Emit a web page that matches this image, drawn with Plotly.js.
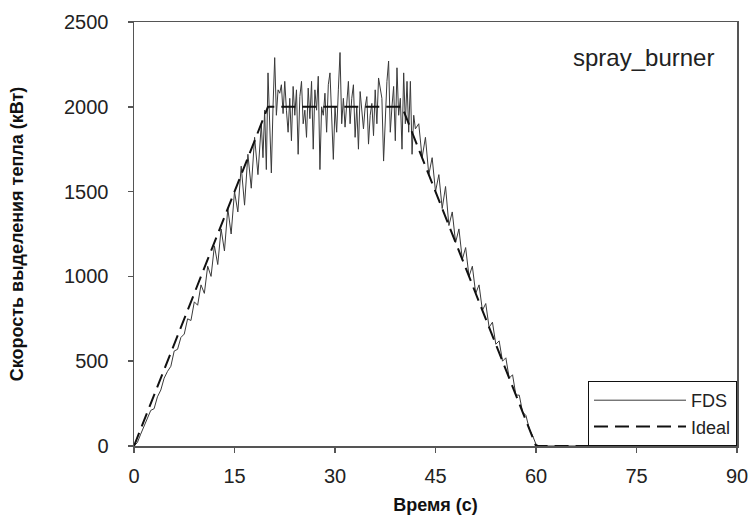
<!DOCTYPE html>
<html>
<head>
<meta charset="utf-8">
<script src="https://cdn.plot.ly/plotly-3.0.1.min.js"></script>
<style>html,body{margin:0;padding:0;background:#fff;}#chart{width:754px;height:529px;}</style>
</head>
<body>
<div id="chart"></div>
<script>
// Ideal heat release curve
var idealTime = [0, 20, 40, 60, 90];
var idealHRR = [0, 2000, 2000, 0, 0];

// FDS simulated heat release
var fdsTime = [
  0, 0.5, 1, 1.5, 2, 2.5, 3, 3.5, 4, 4.5, 5, 5.5, 6, 6.5, 7, 7.5, 8, 8.5, 9, 9.5,
  10, 10.5, 11, 11.5, 12, 12.5, 13, 13.5, 14, 14.5, 15, 15.5, 16, 16.5, 17, 17.5, 18, 18.5,
  19, 19.25, 19.5, 19.75, 20, 20.25, 20.5, 20.75, 21, 21.25, 21.5, 21.75, 22, 22.25, 22.5, 22.75,
  23, 23.25, 23.5, 23.75, 24, 24.25, 24.5, 24.75, 25, 25.25, 25.5, 25.75, 26, 26.25, 26.5, 26.75,
  27, 27.25, 27.5, 27.75, 28, 28.25, 28.5, 28.75, 29, 29.25, 29.5, 29.75, 30, 30.25, 30.5, 30.75,
  31, 31.25, 31.5, 31.75, 32, 32.25, 32.5, 32.75, 33, 33.25, 33.5, 33.75, 34, 34.25, 34.5, 34.75,
  35, 35.25, 35.5, 35.75, 36, 36.25, 36.5, 36.75, 37, 37.25, 37.5, 37.75, 38, 38.25, 38.5, 38.75,
  39, 39.25, 39.5, 39.75, 40, 40.25, 40.5, 40.75, 41, 41.25, 41.5, 41.75, 42,
  42.5, 43, 43.5, 44, 44.5, 45, 45.5, 46, 46.5, 47, 47.5, 48, 48.5, 49, 49.5,
  50, 50.5, 51, 51.5, 52, 52.5, 53, 53.5, 54, 54.5, 55, 55.5, 56, 56.5, 57, 57.5,
  58, 58.5, 59, 59.5, 60, 60.5, 90
];
var fdsHRR = [
  0, 20, 70, 120, 160, 210, 220, 290, 330, 400, 440, 470, 560, 570, 640, 660, 750, 740, 850, 830,
  950, 900, 1060, 1000, 1180, 1070, 1280, 1150, 1400, 1250, 1500, 1380, 1650, 1420, 1720, 1520, 1820, 1600,
  1900, 1700, 1980, 1630, 2200, 1900, 1610, 2000, 2290, 1950, 2100, 2080, 2130, 1960, 2150, 1980,
  1850, 2050, 1800, 2120, 1950, 2100, 1720, 2060, 2150, 1900, 1980, 1820, 2110, 1930, 2150, 1750,
  2100, 1980, 2180, 1630, 2000, 1950, 2080, 1850, 2130, 2200, 1900, 1690, 2000, 1850, 2100, 2320,
  1900, 2050, 1880, 2000, 2150, 1900, 2050, 2130, 1820, 2000, 1750, 2090, 1980, 1870, 2000, 2060,
  1780, 1950, 2020, 1830, 2100, 1900, 2170, 2100, 2050, 1680, 1980, 2150, 2270, 1850, 2000, 2120,
  1800, 2230, 1950, 2050, 1750, 2200, 1900, 2150, 1850, 2150, 1720, 1950, 1870,
  1900, 1700, 1820, 1600, 1700, 1500, 1600, 1400, 1530, 1300, 1380, 1200, 1280, 1100, 1170,
  1000, 1060, 900, 950, 800, 840, 700, 730, 600, 620, 500, 520, 400, 420, 300, 300,
  200, 180, 100, 60, 10, 0, 0
];

var xTicks = [0, 15, 30, 45, 60, 75, 90];
var yTicks = [0, 500, 1000, 1500, 2000, 2500];

var FONT = 'Liberation Sans, Arial, sans-serif';

var traces = [
  {x: fdsTime, y: fdsHRR, name: 'FDS', mode: 'lines', type: 'scatter',
   line: {color: '#3a3a3a', width: 1}},
  {x: idealTime, y: idealHRR, name: 'Ideal', mode: 'lines', type: 'scatter',
   line: {color: '#111', width: 2, dash: '14px,7px'}}
];

var axisCommon = {
  showgrid: false, zeroline: false, showline: true, mirror: true,
  linecolor: '#555', linewidth: 1.5, ticks: 'outside', ticklen: 5,
  tickcolor: '#555', tickwidth: 1.5,
  tickfont: {family: FONT, size: 20, color: '#222'}
};

var layout = {
  width: 754, height: 529,
  margin: {l: 134, r: 17, t: 22, b: 83},
  paper_bgcolor: '#fff', plot_bgcolor: '#fff',
  showlegend: true,
  legend: {
    x: 1, y: 0, xanchor: 'right', yanchor: 'bottom',
    bordercolor: '#111', borderwidth: 1, bgcolor: '#fff',
    font: {family: FONT, size: 18, color: '#222'},
    itemwidth: 92
  },
  xaxis: Object.assign({}, axisCommon, {
    range: [0, 90], tickvals: xTicks, ticktext: xTicks.map(String),
    ticklabelstandoff: 6,
    title: {text: '<b>Время (с)</b>', standoff: 13,
            font: {family: FONT, size: 18, color: '#111'}}
  }),
  yaxis: Object.assign({}, axisCommon, {
    range: [0, 2500], tickvals: yTicks, ticktext: yTicks.map(String),
    ticklabelstandoff: 15,
    title: {text: '<b>Скорость выделения тепла (кВт)</b>', standoff: 35,
            font: {family: FONT, size: 18, color: '#111'}}
  }),
  annotations: [{
    xref: 'paper', yref: 'paper', x: 0.966, y: 0.917,
    xanchor: 'right', yanchor: 'middle', showarrow: false,
    text: 'spray_burner',
    font: {family: FONT, size: 24, color: '#222'}
  }]
};

Plotly.newPlot('chart', traces, layout, {displayModeBar: false, staticPlot: true});
</script>
</body>
</html>
